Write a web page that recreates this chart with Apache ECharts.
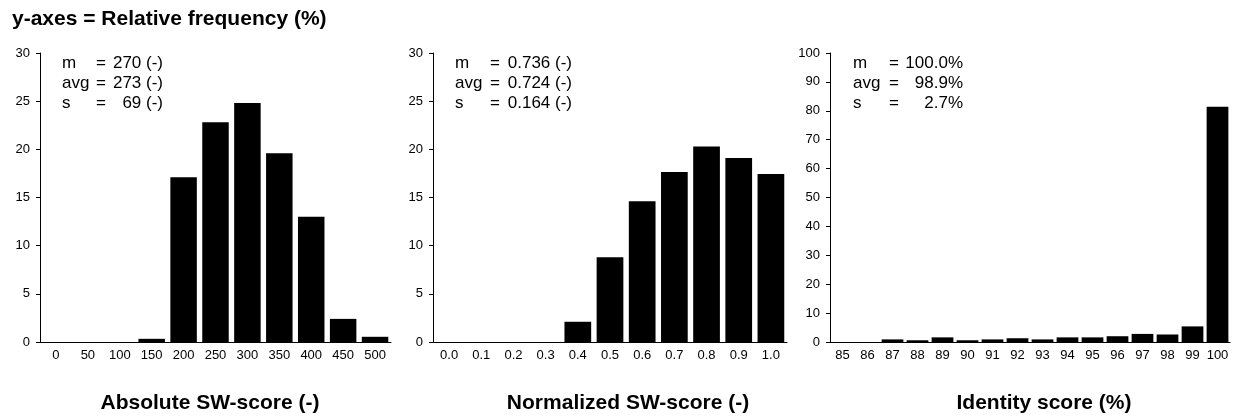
<!DOCTYPE html>
<html>
<head>
<meta charset="utf-8">
<script src="https://cdn.jsdelivr.net/npm/echarts@6/dist/echarts.min.js"></script>
<style>
  html, body { margin: 0; padding: 0; background: #fff; }
  #chart { width: 1237px; height: 419px; }
</style>
</head>
<body>
<div id="chart"></div>
<script>
var absCats = ['0', '50', '100', '150', '200', '250', '300', '350', '400', '450', '500'];
var absFreq = [0, 0, 0, 0.33, 17.1, 22.8, 24.8, 19.6, 13.0, 2.4, 0.54];

var normCats = ['0.0', '0.1', '0.2', '0.3', '0.4', '0.5', '0.6', '0.7', '0.8', '0.9', '1.0'];
var normFreq = [0, 0, 0, 0, 2.1, 8.8, 14.6, 17.65, 20.3, 19.1, 17.45];

var idCats = ['85', '86', '87', '88', '89', '90', '91', '92', '93', '94', '95', '96', '97', '98', '99', '100'];
var idFreq = [0, 0, 0.9, 0.6, 1.6, 0.6, 0.9, 1.3, 0.9, 1.6, 1.6, 2.0, 2.8, 2.6, 5.4, 81.4];

var statNames = ['m', 'avg', 's'];
var absStats = ['270 (-)', '273 (-)', '69 (-)'];
var normStats = ['0.736 (-)', '0.724 (-)', '0.164 (-)'];
var idStats = ['100.0%', '98.9%', '2.7%'];

var dom = document.getElementById('chart');
var myChart = echarts.init(dom, null, { renderer: 'canvas' });

var font = 'Liberation Sans, Arial, sans-serif';
var grids = [
  { left: 40, top: 53, width: 351, height: 289 },
  { left: 433, top: 53, width: 354, height: 289 },
  { left: 830, top: 53, width: 400, height: 289 }
];

// pad = [left, right] to nudge the axis title off centre like the original
function xAxis(idx, cats, name, pad) {
  return {
    type: 'category',
    gridIndex: idx,
    data: cats,
    name: name,
    nameLocation: 'middle',
    nameGap: 51,
    nameTextStyle: { fontFamily: font, fontWeight: 'bold', fontSize: 21, color: '#000', padding: [0, pad[1], 0, pad[0]] },
    axisLine: { lineStyle: { color: '#000', width: 1 } },
    axisTick: { inside: true, length: 4, lineStyle: { color: '#000' } },
    axisLabel: { fontFamily: font, fontSize: 13, color: '#000', margin: 7, interval: 0 }
  };
}

function yAxis(idx, max, step) {
  return {
    type: 'value',
    gridIndex: idx,
    min: 0,
    max: max,
    interval: step,
    splitLine: { show: false },
    axisLine: { show: true, lineStyle: { color: '#000', width: 1 } },
    axisTick: { show: true, length: 4, lineStyle: { color: '#000' } },
    axisLabel: { fontFamily: font, fontSize: 13, color: '#000', margin: 10 }
  };
}

function bars(idx, data, gap) {
  return {
    type: 'bar',
    xAxisIndex: idx,
    yAxisIndex: idx,
    data: data,
    barCategoryGap: gap,
    itemStyle: { color: '#000' },
    silent: true
  };
}

// stats block: label, '=' and right-aligned value
function statText(x0, xEq, xVal, vals) {
  var out = [];
  var f = '17px ' + font;
  for (var i = 0; i < statNames.length; i++) {
    var y = 63 + i * 20;
    out.push({ type: 'text', x: x0, y: y, style: { text: statNames[i], font: f, fill: '#000', verticalAlign: 'middle' } });
    out.push({ type: 'text', x: xEq, y: y, style: { text: '=', font: f, fill: '#000', verticalAlign: 'middle' } });
    out.push({ type: 'text', x: xVal, y: y, style: { text: vals[i], font: f, fill: '#000', verticalAlign: 'middle', align: 'right' } });
  }
  return out;
}

var option = {
  animation: false,
  grid: grids,
  xAxis: [
    xAxis(0, absCats, 'Absolute SW-score (-)', [0, 11]),
    xAxis(1, normCats, 'Normalized SW-score (-)', [36, 0]),
    xAxis(2, idCats, 'Identity score (%)', [28, 0])
  ],
  yAxis: [yAxis(0, 30, 5), yAxis(1, 30, 5), yAxis(2, 100, 10)],
  series: [bars(0, absFreq, '17%'), bars(1, normFreq, '17%'), bars(2, idFreq, '13%')],
  graphic: [
    { type: 'text', left: 12, top: 9, style: { text: 'y-axes = Relative frequency (%)', font: 'bold 21px ' + font, fill: '#000' } }
  ].concat(
    statText(62, 96, 163, absStats),
    statText(455, 490, 572, normStats),
    statText(853, 889, 963, idStats)
  )
};

myChart.setOption(option);
window.addEventListener('resize', myChart.resize);
</script>
</body>
</html>
